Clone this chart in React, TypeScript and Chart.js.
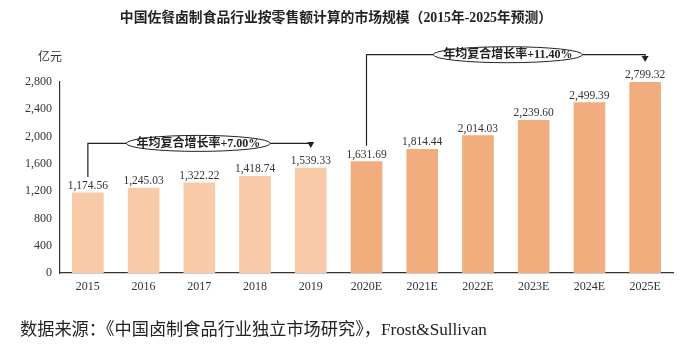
import React, { useEffect, useRef } from "react";
import { Chart, registerables } from "chart.js";

Chart.register(...registerables);

const categories = ["2015", "2016", "2017", "2018", "2019", "2020E", "2021E", "2022E", "2023E", "2024E", "2025E"];
const values = [1174.56, 1245.03, 1322.22, 1418.74, 1539.33, 1631.69, 1814.44, 2014.03, 2239.6, 2499.39, 2799.32];
const yTicks = [0, 400, 800, 1200, 1600, 2000, 2400, 2800];
const titleText = "中国佐餐卤制食品行业按零售额计算的市场规模（2015年-2025年预测）";
const unitText = "亿元";
const sourceText = "数据来源：《中国卤制食品行业独立市场研究》，Frost&Sullivan";
const cagrLabels = ["年均复合增长率+7.00%", "年均复合增长率+11.40%"];
const cagrRanges = [[0, 4], [5, 10]];

const LIGHT = "#F8CAA7";
const DARK = "#F2AD7E";
const SERIF = "'Liberation Serif', 'Noto Sans CJK SC', serif";

const fmt = (v: number) =>
  v.toLocaleString("en-US", { minimumFractionDigits: 2, maximumFractionDigits: 2 });

const overlay = {
  id: "overlay",
  afterDatasetsDraw(chart: any) {
    const ctx = chart.ctx;
    const x = chart.scales.x;
    const y = chart.scales.y;
    ctx.save();
    // data labels
    ctx.fillStyle = "#333";
    ctx.font = `11.5px ${SERIF}`;
    ctx.textAlign = "center";
    ctx.textBaseline = "alphabetic";
    values.forEach((v, i) => {
      ctx.fillText(fmt(v), x.getPixelForValue(i), y.getPixelForValue(v) - 4);
    });
    // title
    ctx.font = `bold 13.8px ${SERIF}`;
    ctx.fillStyle = "#222";
    ctx.textBaseline = "middle";
    ctx.fillText(titleText, 336, 18);
    // unit
    ctx.font = `12px ${SERIF}`;
    ctx.fillStyle = "#333";
    ctx.fillText(unitText, 50, 58);
    // source
    ctx.textAlign = "left";
    ctx.font = `17.2px ${SERIF}`;
    ctx.fillStyle = "#222";
    ctx.fillText(sourceText, 20, 330);

    // CAGR annotations
    cagrRanges.forEach((r, k) => {
      const x0 = x.getPixelForValue(r[0]);
      const x1 = x.getPixelForValue(r[1]);
      const startTop = y.getPixelForValue(values[r[0]]) - 16;
      const endTop = y.getPixelForValue(values[r[1]]) - 20;
      const lineY = k === 0 ? y.getPixelForValue(1900) : y.getPixelForValue(3200);
      ctx.strokeStyle = "#222";
      ctx.lineWidth = 1.2;
      ctx.beginPath();
      ctx.moveTo(x0, startTop);
      ctx.lineTo(x0, lineY);
      ctx.lineTo(x1, lineY);
      ctx.lineTo(x1, endTop - 5);
      ctx.stroke();
      ctx.fillStyle = "#222";
      ctx.beginPath();
      ctx.moveTo(x1 - 3.5, endTop - 6);
      ctx.lineTo(x1 + 3.5, endTop - 6);
      ctx.lineTo(x1, endTop);
      ctx.closePath();
      ctx.fill();
      // ellipse
      ctx.font = `bold 12px ${SERIF}`;
      const tw = ctx.measureText(cagrLabels[k]).width;
      const cx = (x0 + x1) / 2 + (k === 0 ? -1 : 2);
      const rx = tw / 2 + 10;
      ctx.beginPath();
      ctx.ellipse(cx, lineY, rx, 8, 0, 0, Math.PI * 2);
      ctx.fillStyle = "#fff";
      ctx.fill();
      ctx.lineWidth = 1;
      ctx.stroke();
      ctx.fillStyle = "#222";
      ctx.textAlign = "center";
      ctx.textBaseline = "middle";
      ctx.fillText(cagrLabels[k], cx, lineY + 0.5);
    });
    ctx.restore();
  },
};

export default function App() {
  const ref = useRef<HTMLCanvasElement | null>(null);
  useEffect(() => {
    if (!ref.current) return;
    const chart = new Chart(ref.current, {
      type: "bar",
      data: {
        labels: categories,
        datasets: [
          {
            data: values,
            backgroundColor: categories.map((c) => (c.endsWith("E") ? DARK : LIGHT)),
            barThickness: 31,
          },
        ],
      },
      options: {
        animation: false,
        responsive: false,
        maintainAspectRatio: false,
        layout: { padding: { top: 82, right: 27, bottom: 56, left: 0 } },
        plugins: { legend: { display: false }, tooltip: { enabled: false } },
        scales: {
          x: {
            grid: { display: false, drawTicks: false },
            border: { display: true, color: "#333", width: 1.2 },
            ticks: { color: "#333", font: { family: SERIF, size: 12 }, padding: 7 },
            afterFit: (s: any) => { s.height = 25; },
          },
          y: {
            min: 0,
            max: 2800,
            grid: { display: false, drawTicks: false },
            border: { display: true, color: "#333", width: 1.2 },
            afterBuildTicks: (s: any) => { s.ticks = yTicks.map((v) => ({ value: v })); },
            ticks: {
              color: "#333",
              font: { family: SERIF, size: 12 },
              padding: 8,
              callback: (v: any) => Number(v).toLocaleString("en-US"),
            },
            afterFit: (s: any) => { s.width = 60; },
          },
        },
      },
      plugins: [overlay],
    });
    return () => chart.destroy();
  }, []);
  return (
    <div style={{ position: "fixed", left: 0, top: 0, width: 700, height: 354, background: "#fff" }}>
      <canvas ref={ref} width={700} height={354} />
    </div>
  );
}
